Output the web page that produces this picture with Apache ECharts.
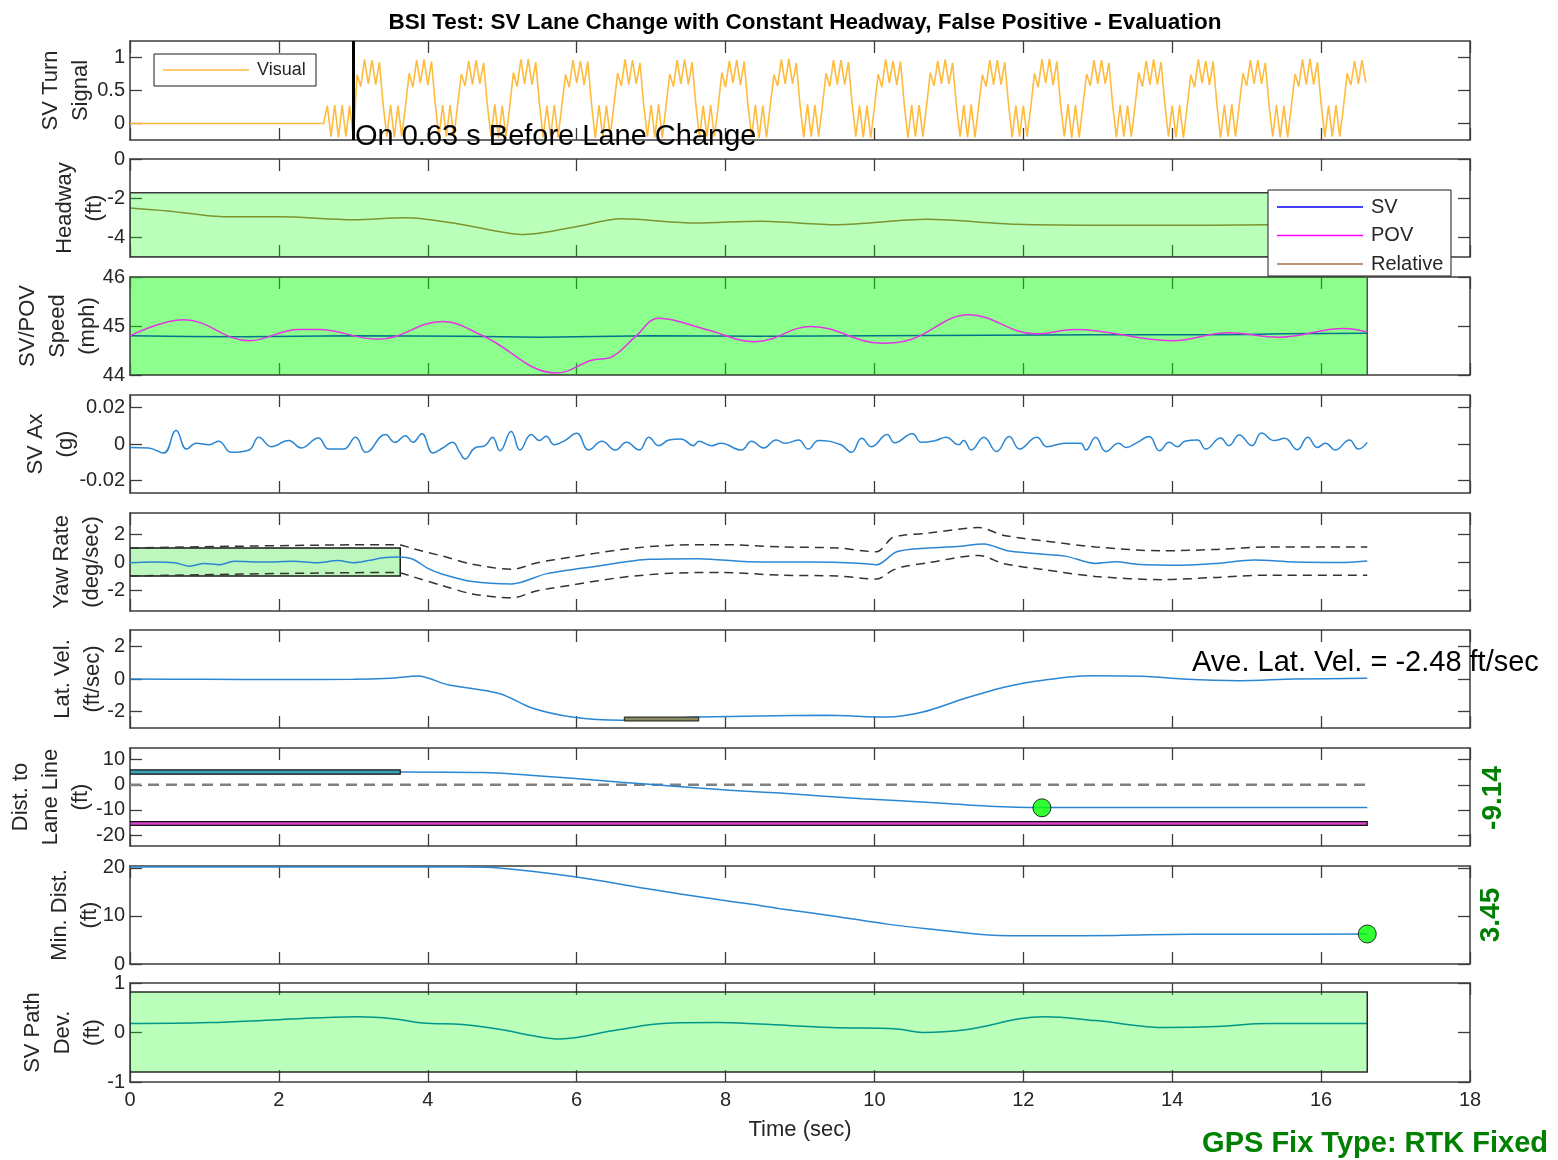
<!DOCTYPE html>
<html>
<head>
<meta charset="utf-8">
<title>BSI Test: SV Lane Change with Constant Headway</title>
<script src="https://cdn.jsdelivr.net/npm/echarts@6/dist/echarts.min.js"></script>
<style>
  html, body { margin: 0; padding: 0; background: #ffffff; }
  #chart { width: 1558px; height: 1160px; }
</style>
</head>
<body>
<div id="chart"></div>
<script>
const FONT = '"Liberation Sans", Arial, Helvetica, sans-serif';

// ---------- shared time base ----------
const timeTicks = [0, 2, 4, 6, 8, 10, 12, 14, 16, 18];
const testEnd = 16.62;

// ---------- SV turn signal (visual), sampled every 0.05 s from 2.6 s ----------
const turnStart = 2.6;
const turnStep = 0.05;
const turnSignal = [
  0, 0.27, -0.20, 0.28, -0.21, 0.28, -0.20, 0.27, -0.22,
  0.74, 0.56, 0.97, 0.60, 0.96, 0.59, 0.93, 0.29, -0.20, 0.28, -0.21, 0.27, -0.20, 0.26,
  0.76, 0.55, 0.96, 0.61, 0.97, 0.58, 0.94, 0.30, -0.21, 0.28, -0.20, 0.28, -0.21, 0.27,
  0.75, 0.57, 0.95, 0.59, 0.96, 0.60, 0.92, 0.28, -0.20, 0.29, -0.22, 0.27, -0.20, 0.25,
  0.77, 0.56, 0.97, 0.60, 0.98, 0.59, 0.93, 0.30, -0.21, 0.27, -0.20, 0.28, -0.21, 0.26,
  0.74, 0.55, 0.96, 0.61, 0.95, 0.58, 0.94, 0.29, -0.22, 0.28, -0.20, 0.27, -0.20, 0.27,
  0.76, 0.57, 0.97, 0.59, 0.96, 0.60, 0.92, 0.28, -0.20, 0.28, -0.21, 0.29, -0.22, 0.26,
  0.75, 0.56, 0.96, 0.60, 0.97, 0.59, 0.93, 0.30, -0.21, 0.27, -0.20, 0.28, -0.20, 0.25,
  0.77, 0.55, 0.95, 0.61, 0.96, 0.58, 0.94, 0.29, -0.20, 0.28, -0.22, 0.27, -0.21, 0.27,
  0.74, 0.57, 0.97, 0.60, 0.98, 0.60, 0.92, 0.28, -0.21, 0.29, -0.20, 0.28, -0.20, 0.26,
  0.76, 0.56, 0.96, 0.59, 0.96, 0.59, 0.93, 0.30, -0.20, 0.27, -0.21, 0.27, -0.22, 0.25,
  0.75, 0.55, 0.97, 0.61, 0.95, 0.58, 0.94, 0.29, -0.22, 0.28, -0.20, 0.28, -0.20, 0.27,
  0.77, 0.57, 0.95, 0.60, 0.97, 0.60, 0.92, 0.28, -0.20, 0.28, -0.21, 0.29, -0.21, 0.26,
  0.74, 0.56, 0.96, 0.59, 0.96, 0.59, 0.93, 0.30, -0.21, 0.27, -0.20, 0.27, -0.20, 0.25,
  0.76, 0.55, 0.97, 0.61, 0.98, 0.58, 0.94, 0.29, -0.20, 0.29, -0.22, 0.28, -0.21, 0.27,
  0.75, 0.57, 0.96, 0.60, 0.96, 0.60, 0.92, 0.28, -0.21, 0.28, -0.20, 0.27, -0.20, 0.26,
  0.77, 0.56, 0.95, 0.59, 0.97, 0.59, 0.93, 0.30, -0.20, 0.27, -0.21, 0.28, -0.22, 0.25,
  0.74, 0.55, 0.97, 0.61, 0.95, 0.58, 0.94, 0.29, -0.22, 0.28, -0.20, 0.29, -0.20, 0.27,
  0.76, 0.57, 0.96, 0.60, 0.96, 0.60, 0.92, 0.28, -0.20, 0.28, -0.21, 0.27, -0.21, 0.26,
  0.75, 0.56, 0.97, 0.59, 0.98, 0.59, 0.93, 0.30, -0.21, 0.27, -0.20, 0.28, -0.20, 0.25,
  0.76, 0.58, 0.95, 0.60, 0.96, 0.62
];
const signalOnTime = 3.0;

// ---------- headway (relative) ----------
const headwayTime = [0, 0.5, 1.3, 2.0, 3.0, 3.7, 4.4, 5.3, 5.97, 6.6, 7.6, 8.46, 9.5, 10.7, 11.9, 13.25, 14.5, 15.3, 16.62];
const headwayRel  = [-2.5, -2.65, -2.95, -2.95, -3.1, -3.0, -3.3, -3.85, -3.47, -3.05, -3.27, -3.17, -3.35, -3.08, -3.33, -3.38, -3.38, -3.35, -3.35];
const headwayBand = [0, 16.62, -5, -1.72];

// ---------- SV / POV speed ----------
const svSpeedTime = [0, 1.5, 3.0, 4.5, 5.5, 7.0, 8.5, 10.0, 11.5, 13.0, 14.5, 15.5, 16.62];
const svSpeed     = [44.8, 44.78, 44.8, 44.79, 44.77, 44.8, 44.79, 44.8, 44.81, 44.82, 44.82, 44.84, 44.85];
const povTime  = [0, 0.72, 1.6, 2.26, 2.53, 3.33, 4.2, 4.74, 5.74, 6.2, 6.47, 6.8, 7.1, 7.74, 8.4, 9.15, 10.1, 10.5, 11.27, 12.16, 12.7, 14.0, 14.75, 15.44, 16.3, 16.62];
const povSpeed = [44.8, 45.13, 44.7, 44.93, 44.93, 44.73, 45.09, 44.8, 44.04, 44.3, 44.37, 44.8, 45.16, 44.93, 44.68, 44.99, 44.65, 44.73, 45.23, 44.84, 44.93, 44.7, 44.86, 44.77, 44.95, 44.88];
const speedBand = [0, 16.62, 44, 46];

// ---------- SV longitudinal acceleration ----------
const axTime = [0, 0.25, 0.45, 0.62, 0.76, 0.89, 1.06, 1.19, 1.36, 1.6, 1.73, 1.9, 2.13, 2.3, 2.53, 2.67, 2.87, 3.03, 3.17, 3.43,
  3.56, 3.7, 3.8, 3.92, 4.07, 4.2, 4.33, 4.43, 4.5, 4.63, 4.77, 4.87, 4.97, 5.12, 5.24, 5.39, 5.5, 5.59, 5.7, 5.84,
  6.0, 6.16, 6.34, 6.52, 6.67, 6.84, 6.97, 7.1, 7.24, 7.4, 7.57, 7.64, 7.81, 7.94, 8.21, 8.35, 8.51, 8.68, 8.8, 8.98,
  9.11, 9.25, 9.55, 9.69, 9.83, 9.96, 10.17, 10.27, 10.51, 10.63, 10.82, 10.96, 11.13, 11.2, 11.3, 11.47, 11.64, 11.81, 11.95, 12.18,
  12.32, 12.56, 12.77, 12.84, 12.97, 13.11, 13.28, 13.38, 13.52, 13.69, 13.83, 13.96, 14.07, 14.17, 14.34, 14.45, 14.65, 14.76, 14.9, 15.07,
  15.2, 15.37, 15.51, 15.68, 15.82, 15.95, 16.06, 16.19, 16.38, 16.5, 16.62];
const axValue = [-0.0019, -0.0022, -0.0050, 0.0074, -0.0028, 0.0004, -0.0004, 0.0015, -0.0046, -0.0033, 0.0037, -0.0015, 0.0019, -0.0022, 0.0033, -0.0028, -0.0028, 0.0037, -0.0046, 0.0052,
  0.0009, 0.0046, 0.0009, 0.0056, -0.0050, -0.0022, 0.0009, -0.0046, -0.0083, -0.0022, -0.0009, 0.0037, -0.0037, 0.0069, -0.0033, 0.0052, 0.0019, 0.0043, -0.0004, 0.0019,
  0.0059, -0.0033, 0.0015, -0.0033, 0.0009, -0.0033, 0.0037, -0.0009, 0.0022, 0.0028, -0.0009, 0.0015, -0.0009, 0.0004, -0.0033, 0.0015, -0.0022, 0.0022, 0.0004, 0.0022,
  -0.0028, 0.0019, -0.0004, -0.0046, 0.0031, -0.0015, 0.0052, 0.0007, 0.0056, 0.0009, 0.0019, 0.0037, -0.0004, 0.0019, -0.0033, 0.0037, -0.0041, 0.0041, -0.0028, 0.0037,
  -0.0015, 0.0004, 0.0004, -0.0033, 0.0037, -0.0041, 0.0004, -0.0019, 0.0006, 0.0041, -0.0037, 0.0009, -0.0015, 0.0015, 0.0022, -0.0028, 0.0033, -0.0009, 0.0050, -0.0009,
  0.0061, 0.0019, 0.0031, -0.0031, 0.0037, -0.0019, 0.0004, -0.0033, 0.0022, -0.0028, 0.0009];

// ---------- yaw rate with tolerance corridor ----------
const yawTime = [0, 0.3, 0.6, 0.8, 1.0, 1.2, 1.4, 1.8, 2.2, 2.5, 2.8, 3.0, 3.2, 3.4, 3.6, 3.8, 4.0, 4.2, 4.6, 5.13, 5.6, 6.3, 6.97, 7.64, 8.3, 8.73,
  9.15, 9.83, 10.03, 10.3, 10.72, 11.1, 11.47, 11.81, 12.56, 12.97, 13.25, 13.52, 14.14, 14.6, 15.1, 15.64, 16.33, 16.62];
const yawRate = [-0.05, 0.0, -0.05, -0.3, -0.1, -0.2, 0.05, 0.0, 0.05, -0.05, 0.1, -0.05, 0.1, 0.3, 0.35, 0.2, -0.45, -0.87, -1.4, -1.57, -0.83, -0.28, 0.19, 0.24, 0.02, 0.0,
  0.0, -0.1, -0.2, 0.73, 1.0, 1.1, 1.29, 0.78, 0.42, -0.1, 0.02, -0.16, -0.23, -0.1, 0.14, 0.0, -0.03, 0.07];
const yawBandTime = [0, 3.53, 3.63, 3.8, 4.2, 4.6, 5.13, 5.47, 5.93, 6.6, 7.27, 7.94, 8.73, 9.5, 10.03, 10.23, 10.37, 10.72, 11.4, 11.74, 12.29, 12.97, 13.86, 14.6, 15.3, 16.62];
const yawUpper = [1.0, 1.24, 1.22, 0.95, 0.42, -0.16, -0.52, -0.05, 0.35, 0.89, 1.2, 1.24, 1.08, 1.0, 0.73, 1.71, 1.9, 2.06, 2.46, 1.9, 1.5, 1.08, 0.8, 0.9, 1.08, 1.08];
const yawLower = [-1.0, -0.75, -0.78, -1.05, -1.69, -2.28, -2.56, -2.05, -1.65, -1.1, -0.8, -0.75, -0.94, -1.0, -1.22, -0.63, -0.35, -0.05, 0.47, -0.12, -0.56, -1.03, -1.26, -1.1, -0.94, -0.94];
const yawBox = [0, 3.63, -1, 1];

// ---------- lateral velocity ----------
const latTime = [0, 1.0, 2.0, 3.0, 3.5, 3.87, 4.27, 4.97, 5.4, 5.94, 6.6, 7.0, 7.64, 8.46, 9.35, 10.17, 10.65, 11.2, 11.74, 12.29, 12.9, 13.66, 14.14, 14.9, 15.64, 16.62];
const latVel  = [0.0, -0.02, -0.03, -0.02, 0.05, 0.18, -0.35, -0.9, -1.78, -2.33, -2.53, -2.45, -2.33, -2.26, -2.22, -2.33, -2.02, -1.21, -0.5, -0.06, 0.2, 0.16, 0.0, -0.1, 0.0, 0.04];
const latWindow = [6.64, 7.64, -2.57, -2.33];
const aveLatVel = -2.48;

// ---------- distance to lane line ----------
const laneTime = [0, 3.63, 4.75, 5.37, 5.94, 6.6, 6.97, 7.64, 8.46, 8.73, 9.83, 10.86, 11.54, 12.25, 13.25, 16.62];
const laneDist = [5.1, 5.1, 4.9, 3.8, 2.6, 1.05, 0.25, -1.3, -2.9, -3.3, -5.5, -7.2, -8.5, -9.0, -9.0, -9.0];
const laneStartBox = [0, 3.63, 4.2, 5.9];
const laneFarBox = [0, 16.62, -16.1, -14.6];
const laneRef = 0;
const laneMarkTime = 12.25;
const laneMarkValue = -9.14;

// ---------- minimum distance ----------
const minTime = [0, 4.5, 4.95, 6.0, 6.93, 7.94, 8.46, 8.73, 9.49, 10.17, 10.86, 11.54, 12.22, 13.25, 14.27, 15.3, 16.62];
const minDist = [20.2, 20.2, 20.0, 18.1, 15.7, 13.3, 12.2, 11.5, 9.9, 8.3, 7.1, 6.06, 5.86, 5.95, 6.2, 6.2, 6.25];
const minMarkTime = 16.62;
const minMarkValue = 6.25;
const minLabel = '3.45';

// ---------- SV path deviation ----------
const pathTime = [0, 1.06, 2.0, 3.06, 3.53, 3.93, 4.47, 4.94, 5.47, 5.77, 6.0, 6.54, 7.27, 7.88, 8.46, 9.42, 10.3, 10.65, 11.2, 12.29, 12.97, 13.93, 14.6, 15.3, 16.62];
const pathDev  = [0.18, 0.2, 0.26, 0.32, 0.28, 0.19, 0.16, 0.07, -0.08, -0.13, -0.1, 0.05, 0.19, 0.2, 0.17, 0.1, 0.07, 0.0, 0.05, 0.32, 0.24, 0.1, 0.12, 0.18, 0.18];
const pathBand = [0, 16.62, -0.8, 0.82];

// ---------- legend entries ----------
const signalLegend = [{ name: 'Visual', color: '#ffbb3d' }];
const speedLegend = [
  { name: 'SV', color: '#0000ff' },
  { name: 'POV', color: '#ff00ff' },
  { name: 'Relative', color: '#a86e44' }
];

// ---------- panel layout ----------
const panels = [
  { top: 41,  height: 99, min: -0.25, max: 1.25,  ticks: [0, 0.5, 1],        name: 'SV Turn\nSignal',        gap: 34 },
  { top: 159, height: 98, min: -5,    max: 0,     ticks: [-4, -2, 0],        name: 'Headway\n(ft)',          gap: 20 },
  { top: 277, height: 98, min: 44,    max: 46,    ticks: [44, 45, 46],       name: 'SV/POV\nSpeed\n(mph)',   gap: 27 },
  { top: 395, height: 98, min: -0.027, max: 0.027, ticks: [-0.02, 0, 0.02],  name: 'SV Ax\n(g)',             gap: 49 },
  { top: 513, height: 98, min: -3.5,  max: 3.5,   ticks: [-2, 0, 2],         name: 'Yaw Rate\n(deg/sec)',    gap: 23 },
  { top: 630, height: 98, min: -3,    max: 3,     ticks: [-2, 0, 2],         name: 'Lat. Vel.\n(ft/sec)',    gap: 22 },
  { top: 748, height: 98, min: -24.3, max: 14.6,  ticks: [-20, -10, 0, 10],  name: 'Dist. to\nLane Line\n(ft)', gap: 34 },
  { top: 866, height: 98, min: 0,     max: 20.4,  ticks: [0, 10, 20],        name: 'Min. Dist.\n(ft)',       gap: 25 },
  { top: 983, height: 99, min: -1,    max: 1,     ticks: [-1, 0, 1],         name: 'SV Path\nDev.\n(ft)',    gap: 22 }
];

const AXIS_COLOR = '#3c3c3c';
const TEXT_COLOR = '#262626';
const BLUE = '#2a86d2';

const grids = [], xAxes = [], yAxes = [];
panels.forEach((p, i) => {
  grids.push({ left: 130, right: 88, top: p.top, height: p.height, containLabel: false, outerBoundsMode: 'none' });
  const isLast = i === panels.length - 1;
  ['bottom', 'top'].forEach(pos => {
    xAxes.push({
      gridIndex: i, type: 'value', position: pos, min: 0, max: 18, interval: 2,
      axisLine: { show: true, onZero: false, lineStyle: { color: AXIS_COLOR, width: 1.5 } },
      axisTick: { show: true, inside: true, length: 12, lineStyle: { color: AXIS_COLOR, width: 1.3 } },
      axisLabel: { show: isLast && pos === 'bottom', color: TEXT_COLOR, fontSize: 20, fontFamily: FONT, margin: 8 },
      splitLine: { show: false },
      name: (isLast && pos === 'bottom') ? 'Time (sec)' : '',
      nameLocation: 'middle', nameGap: 37, nameMoveOverlap: false,
      nameTextStyle: { color: TEXT_COLOR, fontSize: 22, fontFamily: FONT }
    });
  });
  ['left', 'right'].forEach(pos => {
    yAxes.push({
      gridIndex: i, type: 'value', position: pos, min: p.min, max: p.max,
      axisLine: { show: true, onZero: false, lineStyle: { color: AXIS_COLOR, width: 1.5 } },
      axisTick: { show: true, inside: true, length: 12, customValues: p.ticks, lineStyle: { color: AXIS_COLOR, width: 1.3 } },
      axisLabel: { show: pos === 'left', customValues: p.ticks, color: TEXT_COLOR, fontSize: 20, fontFamily: FONT, margin: 5 },
      splitLine: { show: false },
      name: pos === 'left' ? p.name : '',
      nameLocation: 'middle', nameRotate: 90, nameGap: p.gap, nameMoveOverlap: false,
      nameTextStyle: { color: TEXT_COLOR, fontSize: 22, fontFamily: FONT, lineHeight: 30 }
    });
  });
});

const zip = (xs, ys) => xs.map((x, k) => [x, ys[k]]);

function lineSeries(panel, name, xs, ys, color, extra) {
  return Object.assign({
    type: 'line', name: name, xAxisIndex: panel * 2, yAxisIndex: panel * 2,
    data: zip(xs, ys), showSymbol: false, symbol: 'none', smooth: 0.3,
    lineStyle: { color: color, width: 1.5 }, itemStyle: { color: color },
    animation: false, silent: true, z: 3
  }, extra || {});
}

function rectSeries(panel, box, style, z) {
  return {
    type: 'custom', xAxisIndex: panel * 2, yAxisIndex: panel * 2,
    data: [box], clip: true, silent: true, z: z, animation: false,
    encode: { x: [0, 1], y: [2, 3] },
    renderItem: (params, api) => {
      const a = api.coord([api.value(0), api.value(3)]);
      const b = api.coord([api.value(1), api.value(2)]);
      return { type: 'rect', shape: { x: a[0], y: a[1], width: b[0] - a[0], height: b[1] - a[1] }, style: style };
    }
  };
}

function dotSeries(panel, t, v) {
  return {
    type: 'scatter', xAxisIndex: panel * 2, yAxisIndex: panel * 2,
    data: [[t, v]], symbol: 'circle', symbolSize: 18, silent: true, z: 6, animation: false,
    itemStyle: { color: '#00ff00', borderColor: '#000000', borderWidth: 1 }
  };
}

// boxed legend drawn above the plots: white frame, a short line sample and a label per entry
function legendBox(x, y, w, h, entries, rowGap, firstRow, fontSize) {
  const children = [
    { type: 'rect', z: 100, shape: { x: 0, y: 0, width: w, height: h }, style: { fill: '#ffffff', stroke: '#1a1a1a', lineWidth: 1 } }
  ];
  entries.forEach((e, k) => {
    const cy = firstRow + k * rowGap;
    children.push({ type: 'line', z: 101, shape: { x1: 9, y1: cy, x2: 95, y2: cy }, style: { stroke: e.color, lineWidth: 1.5 } });
    children.push({ type: 'text', z: 101, x: 103, y: cy, style: { text: e.name, fill: TEXT_COLOR, fontSize: fontSize, fontFamily: FONT, verticalAlign: 'middle' } });
  });
  return { type: 'group', x: x, y: y, z: 100, zlevel: 1, silent: true, children: children };
}

const turnData = [[0, 0]].concat(turnSignal.map((v, k) => [turnStart + k * turnStep, v]));

const series = [
  // panel 0: turn signal
  {
    type: 'line', name: 'Visual', xAxisIndex: 0, yAxisIndex: 0, data: turnData,
    showSymbol: false, symbol: 'none', animation: false, silent: true, z: 3,
    lineStyle: { color: '#ffbb3d', width: 1.6 }, itemStyle: { color: '#ffbb3d' },
    markLine: {
      silent: true, symbol: 'none', animation: false, label: { show: false },
      lineStyle: { color: '#000000', width: 3, type: 'solid' },
      data: [{ xAxis: signalOnTime }]
    }
  },
  // panel 1: headway
  lineSeries(1, 'Relative', headwayTime, headwayRel, '#a86e44', { z: 2 }),
  rectSeries(1, headwayBand, { fill: 'rgba(0,255,0,0.27)', stroke: '#3a3a3a', lineWidth: 1.5 }, 4),
  // panel 2: speed
  lineSeries(2, 'SV', svSpeedTime, svSpeed, '#0000ff', { z: 2, smooth: 0.2 }),
  rectSeries(2, speedBand, { fill: 'rgba(0,255,0,0.45)', stroke: '#3f5f3f', lineWidth: 1.5 }, 4),
  lineSeries(2, 'POV', povTime, povSpeed, '#e633e6', { z: 5, smooth: 0.4 }),
  // panel 3: Ax
  lineSeries(3, 'Ax', axTime, axValue, BLUE, { smooth: 0.45 }),
  // panel 4: yaw rate
  rectSeries(4, yawBox, { fill: '#bdf7bd', stroke: '#1a1a1a', lineWidth: 1.5 }, 1),
  lineSeries(4, 'Yaw upper', yawBandTime, yawUpper, '#333333', { lineStyle: { color: '#333333', width: 1.5, type: [9, 6] } }),
  lineSeries(4, 'Yaw lower', yawBandTime, yawLower, '#333333', { lineStyle: { color: '#333333', width: 1.5, type: [9, 6] } }),
  lineSeries(4, 'Yaw', yawTime, yawRate, BLUE, { z: 4 }),
  // panel 5: lateral velocity
  lineSeries(5, 'Lat. Vel.', latTime, latVel, BLUE),
  rectSeries(5, latWindow, { fill: '#8b8b63', stroke: '#1a1a1a', lineWidth: 1 }, 4),
  // panel 6: distance to lane line
  lineSeries(6, 'Lane ref', [0, testEnd], [laneRef, laneRef], '#808080', { lineStyle: { color: '#808080', width: 2.5, type: [11, 7] }, smooth: false }),
  lineSeries(6, 'Dist', laneTime, laneDist, BLUE, { smooth: 0.35 }),
  rectSeries(6, laneStartBox, { fill: '#3f9fb3', stroke: '#111111', lineWidth: 1.2 }, 4),
  rectSeries(6, laneFarBox, { fill: '#e040cc', stroke: '#111111', lineWidth: 1.2 }, 4),
  dotSeries(6, laneMarkTime, laneMarkValue),
  // panel 7: minimum distance
  lineSeries(7, 'Min. Dist.', minTime, minDist, BLUE, { smooth: 0.35 }),
  dotSeries(7, minMarkTime, minMarkValue),
  // panel 8: path deviation
  lineSeries(8, 'Path Dev.', pathTime, pathDev, '#0072bd', { z: 2, smooth: 0.4 }),
  rectSeries(8, pathBand, { fill: 'rgba(0,255,0,0.27)', stroke: '#2a2a2a', lineWidth: 1.5 }, 4)
];

const option = {
  backgroundColor: '#ffffff',
  animation: false,
  title: {
    text: 'BSI Test: SV Lane Change with Constant Headway, False Positive - Evaluation',
    left: 800, top: 6, textAlign: 'center',
    textStyle: { color: '#000000', fontSize: 22.5, fontWeight: 'bold', fontFamily: FONT }
  },
  grid: grids,
  xAxis: xAxes,
  yAxis: yAxes,
  series: series,
  graphic: [
    legendBox(154, 54, 162, 32, signalLegend, 0, 16, 18),
    legendBox(1268, 190, 183, 86, speedLegend, 28.5, 17, 20),
    { type: 'text', left: 355, top: 122, z: 20, zlevel: 1, silent: true,
      style: { text: 'On 0.63 s Before Lane Change', fill: '#000000', fontSize: 29, fontFamily: FONT } },
    { type: 'text', left: 1192, top: 648, z: 20, zlevel: 1, silent: true,
      style: { text: 'Ave. Lat. Vel. = ' + aveLatVel.toFixed(2) + ' ft/sec', fill: '#000000', fontSize: 29, fontFamily: FONT } },
    { type: 'text', x: 1493, y: 798, rotation: Math.PI / 2, z: 20, silent: true,
      style: { text: laneMarkValue.toFixed(2), fill: '#008000', fontSize: 28, fontWeight: 'bold', fontFamily: FONT, align: 'center', verticalAlign: 'middle' } },
    { type: 'text', x: 1491, y: 915, rotation: Math.PI / 2, z: 20, silent: true,
      style: { text: minLabel, fill: '#008000', fontSize: 28, fontWeight: 'bold', fontFamily: FONT, align: 'center', verticalAlign: 'middle' } },
    { type: 'text', right: 10, top: 1129, z: 20, silent: true,
      style: { text: 'GPS Fix Type: RTK Fixed', fill: '#008000', fontSize: 29, fontWeight: 'bold', fontFamily: FONT } }
  ]
};

const chart = echarts.init(document.getElementById('chart'), null, { renderer: 'canvas' });
chart.setOption(option);
</script>
</body>
</html>
